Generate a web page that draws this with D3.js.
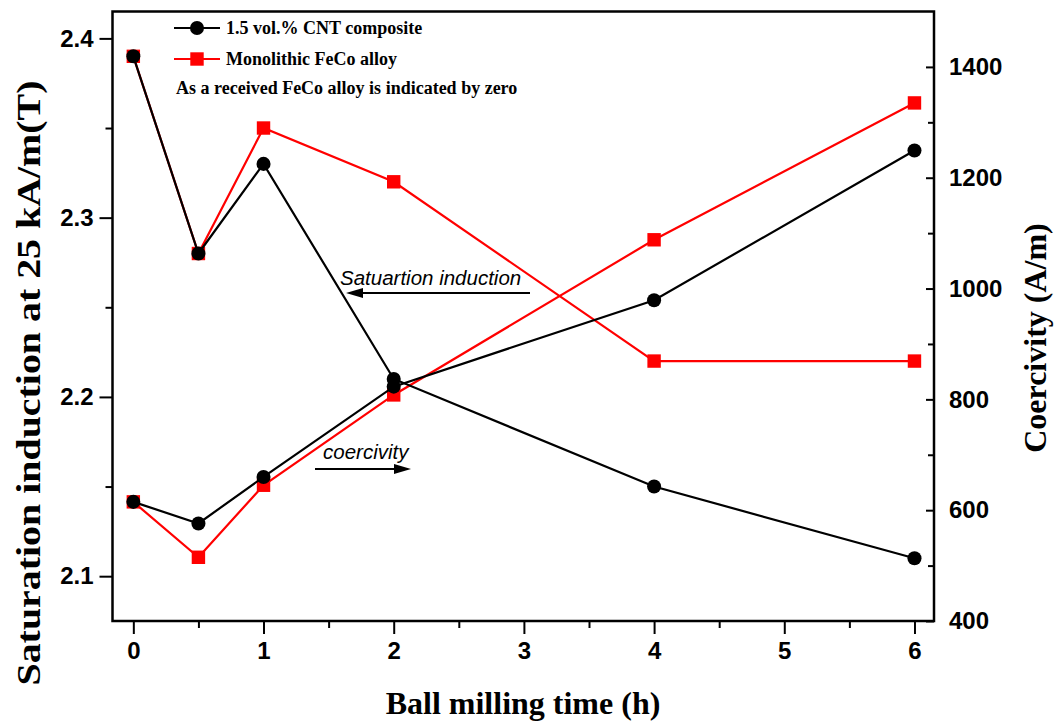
<!DOCTYPE html>
<html>
<head>
<meta charset="utf-8">
<script src="https://cdn.jsdelivr.net/npm/d3@7"></script>
<style>
  body { margin: 0; background: #fff; }
  svg { display: block; }
  .tick text { font-family: "Liberation Sans", Arial, sans-serif; font-weight: bold; font-size: 24px; fill: #000; }
</style>
</head>
<body>
<svg id="container"></svg>
<script>
const width = 1057;
const height = 725;
const margin = ({top: 11.5, right: 123, bottom: 104, left: 112.5});

// data
const time = [0, 0.5, 1, 2, 4, 6];
const cntSat = [2.39, 2.28, 2.33, 2.21, 2.15, 2.11];
const fecoSat = [2.39, 2.28, 2.35, 2.32, 2.22, 2.22];
const cntCoer = [615, 576, 660, 823, 979, 1249];
const fecoCoer = [615, 515, 645, 808, 1088, 1335];

const xTicks = [0, 1, 2, 3, 4, 5, 6];
const xMinor = [0.5, 1.5, 2.5, 3.5, 4.5, 5.5];
const ySatTicks = [2.1, 2.2, 2.3, 2.4];
const ySatMinor = [2.15, 2.25, 2.35];
const yCoerTicks = [400, 600, 800, 1000, 1200, 1400];
const yCoerMinor = [500, 700, 900, 1100, 1300];

const legendLabels = ["1.5 vol.% CNT composite", "Monolithic FeCo alloy"];
const legendNote = "As a received FeCo alloy is indicated by zero";

const red = "#ff0000";
const black = "#000000";

var x = d3.scaleLinear()
        .domain([-0.16, 6.15])
        .range([margin.left, width - margin.right]);

var ySat = d3.scaleLinear()
        .domain([2.075, 2.415])
        .range([height - margin.bottom, margin.top]);

var yCoer = d3.scaleLinear()
        .domain([400, 1500])
        .range([height - margin.bottom, margin.top]);

const svg = d3.select("#container")
        .attr("width", width)
        .attr("height", height)
        .attr("viewBox", [0, 0, width, height]);

svg.append("rect").attr("width", width).attr("height", height).attr("fill", "#fff");

// axes
const cleanAxis = g => {
    g.select(".domain").remove();
    g.selectAll(".tick line").attr("stroke", "#000").attr("stroke-width", 2);
};

svg.append("g")
    .attr("transform", `translate(0,${height - margin.bottom})`)
    .call(d3.axisBottom(x).tickValues(xTicks).tickSize(13).tickPadding(8).tickFormat(d3.format("d")))
    .call(cleanAxis);
svg.append("g")
    .attr("transform", `translate(0,${height - margin.bottom})`)
    .call(d3.axisBottom(x).tickValues(xMinor).tickSize(7).tickFormat(""))
    .call(cleanAxis);

svg.append("g")
    .attr("transform", `translate(${margin.left},0)`)
    .call(d3.axisLeft(ySat).tickValues(ySatTicks).tickSize(13).tickPadding(6).tickFormat(d3.format(".1f")))
    .call(cleanAxis);
svg.append("g")
    .attr("transform", `translate(${margin.left},0)`)
    .call(d3.axisLeft(ySat).tickValues(ySatMinor).tickSize(7).tickFormat(""))
    .call(cleanAxis);

svg.append("g")
    .attr("transform", `translate(${width - margin.right},0)`)
    .call(d3.axisRight(yCoer).tickValues(yCoerTicks).tickSize(-8).tickPadding(15).tickFormat(d3.format("d")))
    .call(cleanAxis);
svg.append("g")
    .attr("transform", `translate(${width - margin.right},0)`)
    .call(d3.axisRight(yCoer).tickValues(yCoerMinor).tickSize(-6).tickFormat(""))
    .call(cleanAxis);

// frame
svg.append("rect")
    .attr("x", margin.left)
    .attr("y", margin.top)
    .attr("width", width - margin.left - margin.right)
    .attr("height", height - margin.top - margin.bottom)
    .attr("fill", "none")
    .attr("stroke", "#000")
    .attr("stroke-width", 2.5);

// series
const series = [
    {vals: fecoSat, y: ySat, color: red, shape: "square"},
    {vals: fecoCoer, y: yCoer, color: red, shape: "square"},
    {vals: cntSat, y: ySat, color: black, shape: "circle"},
    {vals: cntCoer, y: yCoer, color: black, shape: "circle"}
];

series.forEach(s => {
    const pts = time.map((t, i) => [t, s.vals[i]]);
    svg.append("path")
        .datum(pts)
        .attr("fill", "none")
        .attr("stroke", s.color)
        .attr("stroke-width", 2.2)
        .attr("d", d3.line().x(d => x(d[0])).y(d => s.y(d[1])));
    const sym = d3.symbol().type(s.shape === "square" ? d3.symbolSquare : d3.symbolCircle)
        .size(s.shape === "square" ? 180 : 155);
    svg.append("g").selectAll("path")
        .data(pts)
        .join("path")
        .attr("transform", d => `translate(${x(d[0])},${s.y(d[1])})`)
        .attr("d", sym)
        .attr("fill", s.color);
});

// legend
const legend = svg.append("g")
    .attr("font-family", "'Liberation Serif', 'Times New Roman', serif")
    .attr("font-weight", "bold")
    .attr("font-size", 18);

[[black, d3.symbolCircle, 155], [red, d3.symbolSquare, 180]].forEach((l, i) => {
    const ly = 28 + i * 31;
    legend.append("line")
        .attr("x1", 174).attr("x2", 220)
        .attr("y1", ly).attr("y2", ly)
        .attr("stroke", l[0]).attr("stroke-width", 2.2);
    legend.append("path")
        .attr("transform", `translate(197,${ly})`)
        .attr("d", d3.symbol().type(l[1]).size(l[2]))
        .attr("fill", l[0]);
    legend.append("text")
        .attr("x", 226).attr("y", ly)
        .attr("dy", "0.35em")
        .text(legendLabels[i]);
});
legend.append("text")
    .attr("x", 176).attr("y", 88)
    .attr("dy", "0.35em")
    .text(legendNote);

// annotations with arrows
const ann = svg.append("g")
    .attr("font-family", "'Liberation Sans', Arial, sans-serif")
    .attr("font-style", "italic")
    .attr("font-size", 20.5);

const arrow = (x1, x2, y) => {
    const dir = x2 > x1 ? 1 : -1;
    const hx = x2 - dir * 17;
    ann.append("line")
        .attr("x1", x1).attr("x2", hx).attr("y1", y).attr("y2", y)
        .attr("stroke", "#000").attr("stroke-width", 2);
    ann.append("path")
        .attr("d", `M${x2},${y}L${hx},${y - 5}L${hx},${y + 5}Z`)
        .attr("fill", "#000");
};

ann.append("text").attr("x", 340).attr("y", 278).attr("dy", "0.35em").text("Satuartion induction");
arrow(530, 346, 293);
ann.append("text").attr("x", 323).attr("y", 452).attr("dy", "0.35em").text("coercivity");
arrow(315, 411, 469);

// axis titles
const titles = svg.append("g")
    .attr("font-family", "'Liberation Serif', 'Times New Roman', serif")
    .attr("font-weight", "bold")
    .attr("text-anchor", "middle");

titles.append("text")
    .attr("transform", "translate(28,383) rotate(-90)")
    .attr("dy", "0.35em")
    .attr("font-size", 33)
    .attr("textLength", 605)
    .attr("lengthAdjust", "spacingAndGlyphs")
    .text("Saturation induction at 25 kA/m(T)");

titles.append("text")
    .attr("transform", "translate(1035,338) rotate(-90)")
    .attr("dy", "0.35em")
    .attr("font-size", 32)
    .text("Coercivity (A/m)");

titles.append("text")
    .attr("x", 523).attr("y", 703)
    .attr("dy", "0.35em")
    .attr("font-size", 32)
    .text("Ball milling time (h)");
</script>
</body>
</html>
